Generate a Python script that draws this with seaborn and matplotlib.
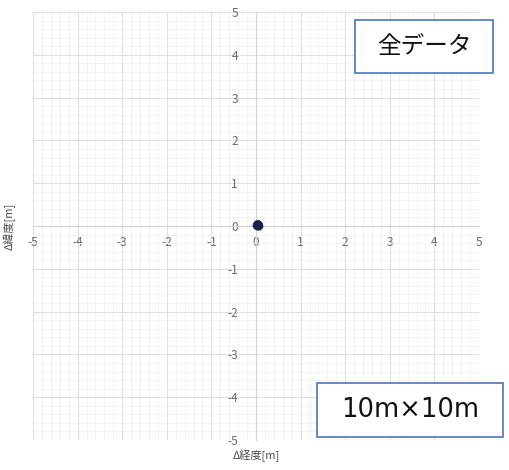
import numpy as np
import pandas as pd
import matplotlib.pyplot as plt
import matplotlib.patches as mpatches
from matplotlib.ticker import MultipleLocator
import seaborn as sns

# Data: offsets from reference point (meters)
dx = [0.03, 0.05, 0.06, 0.04]
dy = [0.01, 0.02, 0.00, 0.03]
ticks = [-5, -4, -3, -2, -1, 0, 1, 2, 3, 4, 5]
title_box = "全データ"
size_box = "10m×10m"
xlabel = "Δ経度[m]"
ylabel = "Δ緯度[m]"

df = pd.DataFrame({"dx": dx, "dy": dy})

sns.set_style("white")
plt.rcParams["font.family"] = ["Noto Sans CJK JP", "DejaVu Sans"]
plt.rcParams["axes.unicode_minus"] = False

fig = plt.figure(figsize=(5.1, 4.7), dpi=100)
ax = fig.add_axes([33 / 510, 1 - 440 / 470, 446 / 510, 428 / 470])

sns.scatterplot(data=df, x="dx", y="dy", ax=ax, color="#1f1f4f",
                s=45, edgecolor="none", zorder=5)

ax.set_xlim(-5, 5)
ax.set_ylim(-5, 5)
ax.set_xticks(ticks)
ax.set_yticks(ticks)
ax.xaxis.set_minor_locator(MultipleLocator(0.2))
ax.yaxis.set_minor_locator(MultipleLocator(0.2))
ax.grid(which="major", color="#dedede", linewidth=0.8)
ax.grid(which="minor", color="#f1f1f1", linewidth=0.6)
ax.set_axisbelow(True)

# axes crossing at the origin
ax.spines["left"].set_position("zero")
ax.spines["bottom"].set_position("zero")
ax.spines["left"].set_color("#d4d4d4")
ax.spines["bottom"].set_color("#d4d4d4")
ax.spines["right"].set_visible(False)
ax.spines["top"].set_visible(False)
ax.tick_params(which="both", length=0, labelsize=8.5, labelcolor="#6a6a6a")
ax.tick_params(axis="x", pad=7)
ax.tick_params(axis="y", pad=13)

ax.set_xlabel("")
ax.set_ylabel("")
fig.text(256 / 510, 1 - 456 / 470, xlabel, ha="center", va="center",
         fontsize=8, color="#4a4a4a")
fig.text(9 / 510, 1 - 226 / 470, ylabel, ha="center", va="center",
         rotation=90, fontsize=8, color="#4a4a4a")

# annotation boxes
boxes = [(355, 20, 493, 73, title_box, ["Noto Sans CJK JP"], 17),
         (317, 383, 503, 437, size_box, ["DejaVu Sans"], 18.5)]
for (x0, y0, x1, y1, txt, fam, fs) in boxes:
    rect = mpatches.Rectangle((x0 / 510, 1 - y1 / 470), (x1 - x0) / 510,
                              (y1 - y0) / 470, transform=fig.transFigure,
                              facecolor="white", edgecolor="#4a76c0",
                              linewidth=1.2, zorder=10)
    fig.add_artist(rect)
    fig.text((x0 + x1) / 2 / 510, 1 - (y0 + y1) / 2 / 470, txt,
             ha="center", va="center", fontsize=fs, family=fam,
             color="#111111", zorder=11)

fig.savefig("out.png", dpi=100)
